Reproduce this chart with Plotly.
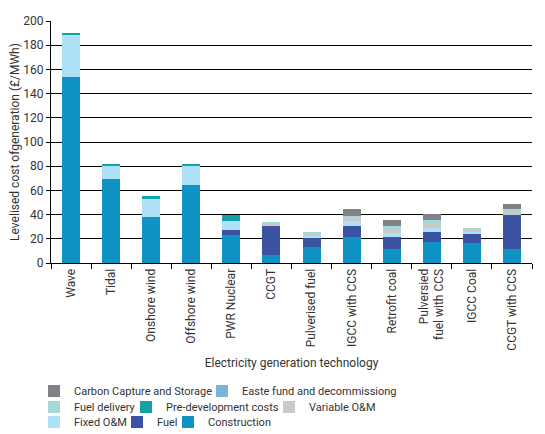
import plotly.graph_objects as go

# technologies on the x axis
technologies = ["Wave", "Tidal", "Onshore wind", "Offshore wind", "PWR Nuclear", "CCGT",
                "Pulverised fuel", "IGCC with CCS", "Retrofit coal",
                "Pulversied<br>fuel with CCS", "IGCC Coal", "CCGT with CCS"]

# cost components (£/MWh), bottom of stack first
construction = [154, 69.8, 37.7, 64.6, 23.4, 6.3, 12.9, 21.1, 11.8, 17.0, 16.2, 11.8]
fuel = [0, 0, 0, 0, 4.2, 23.9, 8.2, 9.7, 9.3, 8.8, 7.4, 28.1]
fixed_om = [34.7, 10.8, 15.1, 16.0, 7.4, 0, 1.4, 4.1, 3.7, 3.1, 2.8, 0]
variable_om = [0, 0, 0, 0, 0, 2.1, 1.4, 2.2, 2.7, 3.5, 1.0, 3.3]
pre_development = [1.3, 0.5, 2.2, 0.6, 4.8, 0, 0, 0, 0, 0, 0, 0]
fuel_delivery = [0, 0, 0, 0, 0, 1.7, 1.9, 2.0, 2.7, 2.8, 1.7, 1.4]
waste_fund = [0, 0, 0, 0, 0, 0, 0, 0, 0, 0, 0, 0]
ccs = [0, 0, 0, 0, 0, 0, 0, 5.8, 5.5, 5.5, 0, 3.8]

# name, values, colour, (legend text start px, legend row)
series = [
    ("Construction", construction, "#0e93c4", 209, 2),
    ("Fuel", fuel, "#3c53a4", 158, 2),
    ("Fixed O&M", fixed_om, "#aee0f6", 75, 2),
    ("Variable O&M", variable_om, "#c9c9c9", 310, 1),
    ("Pre-development costs", pre_development, "#13a2a6", 167, 1),
    ("Fuel delivery", fuel_delivery, "#a3d9d6", 75, 1),
    ("Easte fund and decommissiong", waste_fund, "#7bb3d6", 243, 0),
    ("Carbon Capture and Storage", ccs, "#808285", 75, 0),
]
row_y = [391, 407, 422]

txt = "#333333"
fig = go.Figure()
legends = {}
for i, (name, vals, col, tx, row) in enumerate(series):
    key = "legend" if i == 0 else "legend%d" % (i + 1)
    fig.add_trace(go.Bar(x=technologies, y=vals, name=name, marker_color=col,
                         marker_line_width=0, legend=key, showlegend=True))
    # one legend per entry so each row lines up like the original
    legends[key] = dict(orientation="h", x=(tx - 41 - 51) / 481, xanchor="left",
                        y=(263 - row_y[row]) / 242, yanchor="middle",
                        font=dict(size=11, color=txt), bgcolor="rgba(0,0,0,0)",
                        itemwidth=30)

# page body adds an 8px offset, margins allow for it
fig.update_layout(
    barmode="stack",
    bargap=0.55,
    showlegend=True,
    width=545, height=434,
    margin=dict(l=43, r=21, t=13, b=179, autoexpand=False),
    paper_bgcolor="white", plot_bgcolor="white",
    font=dict(family="Roboto", size=12, color=txt),
    **legends,
)
fig.update_yaxes(range=[0, 200], dtick=20, showgrid=True, gridcolor="black", gridwidth=1,
                 showline=True, linecolor="black", ticks="outside", ticklen=4,
                 tickcolor="black", zeroline=False,
                 title=dict(text="Levelised cost ofgeneration (£/MWh)", font=dict(size=12), standoff=6))
fig.update_xaxes(showline=True, linecolor="black", ticks="outside", ticklen=5,
                 tickcolor="black", tickson="boundaries", tickangle=-90,
                 title=dict(text="Electricity generation technology", font=dict(size=12), standoff=8))

fig.write_html("out.html")
